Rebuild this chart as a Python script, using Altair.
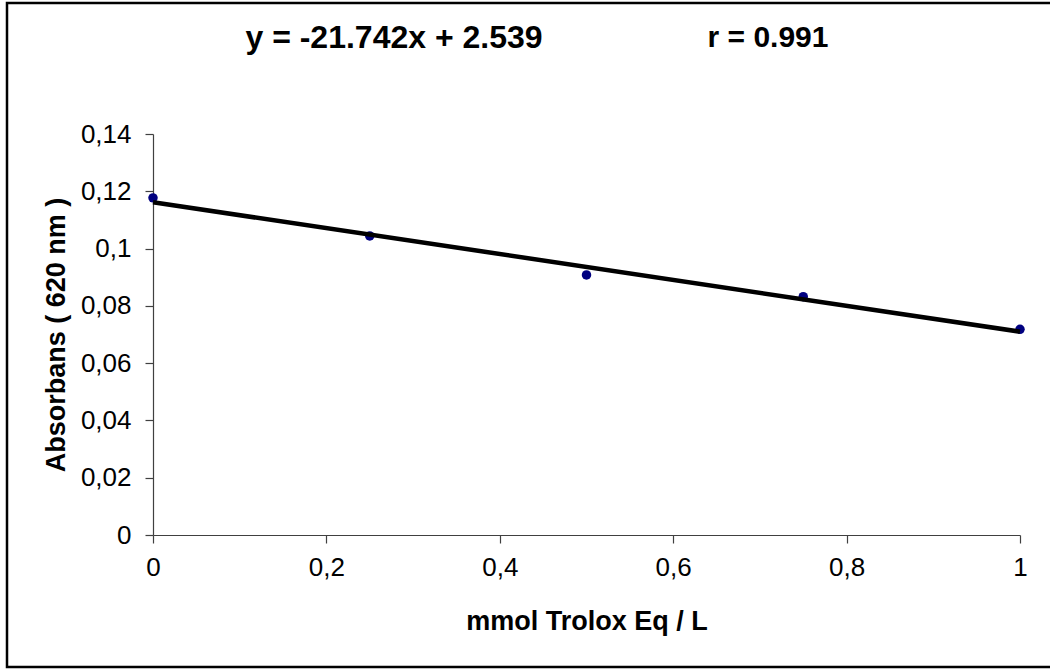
import altair as alt
import pandas as pd

conc = [0, 0.25, 0.5, 0.75, 1.0]
absorb = [0.1177, 0.1044, 0.0908, 0.0832, 0.0718]
y_ticks = [0, 0.02, 0.04, 0.06, 0.08, 0.10, 0.12, 0.14]
x_ticks = [0, 0.2, 0.4, 0.6, 0.8, 1.0]
eq_text = "y = -21.742x + 2.539"
r_text = "r = 0.991"
x_title = "mmol Trolox Eq / L"
y_title = "Absorbans ( 620 nm )"

df = pd.DataFrame({"x": conc, "y": absorb})
FONT = "Liberation Sans"

xenc = alt.X("x:Q", scale=alt.Scale(domain=[0, 1], nice=False, zero=False),
             axis=alt.Axis(values=x_ticks, format="~g",
                           labelExpr="replace(datum.label, '.', ',')",
                           title=x_title, grid=False, tickSize=8, labelFlush=False,
                           labelPadding=11, titlePadding=28))
yenc = alt.Y("y:Q", scale=alt.Scale(domain=[0, 0.14], nice=False),
             axis=alt.Axis(values=y_ticks, format="~g",
                           labelExpr="replace(datum.label, '.', ',')",
                           title=y_title, grid=False, tickSize=8, labelFlush=False,
                           labelPadding=14, titlePadding=10))

points = alt.Chart(df).mark_circle(size=90, color="#000080", opacity=1).encode(x=xenc, y=yenc)

trend = alt.Chart(df).transform_regression("x", "y", extent=[0, 1]).mark_line(
    color="black", strokeWidth=4.5).encode(x="x:Q", y="y:Q")

border = alt.Chart(pd.DataFrame({"a": [0]})).mark_rect(
    fill=None, stroke="black", strokeWidth=2.5, fillOpacity=0).encode(
    x=alt.value(-146), x2=alt.value(900), y=alt.value(-131), y2=alt.value(533))

t1 = alt.Chart(pd.DataFrame({"t": [eq_text]})).mark_text(
    font=FONT, fontSize=32, fontWeight="bold", align="center", baseline="middle",
    color="black").encode(text="t:N", x=alt.value(394 - 153), y=alt.value(38 - 134))
t2 = alt.Chart(pd.DataFrame({"t": [r_text]})).mark_text(
    font=FONT, fontSize=30, fontWeight="bold", align="center", baseline="middle",
    color="black").encode(text="t:N", x=alt.value(768 - 153), y=alt.value(38 - 134))

chart = alt.layer(points, trend, border, t1, t2).properties(
    width=867, height=401,
    autosize=alt.AutoSizeParams(type="none"),
    padding={"left": 153, "top": 134, "right": 30, "bottom": 135},
    background="white",
).configure_view(stroke=None).configure_axis(
    labelFont=FONT, titleFont=FONT, labelFontSize=26, titleFontSize=27,
    labelColor="black", titleColor="black", titleFontWeight="bold",
    domainColor="#404040", tickColor="#404040", domainWidth=1.2, tickWidth=1.2,
)

chart.save("out.html", embed_options={"renderer": "svg", "actions": False})
